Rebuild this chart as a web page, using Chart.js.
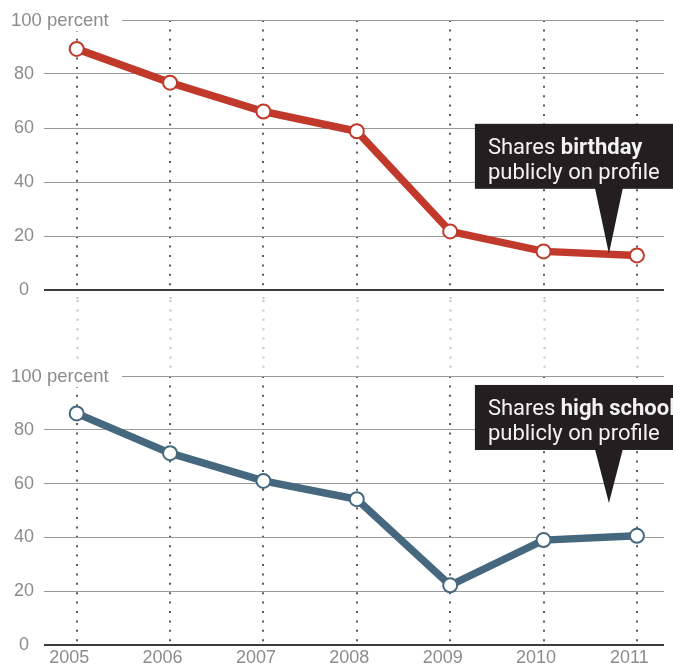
<!DOCTYPE html>
<html>
<head>
<meta charset="utf-8">
<script src="https://cdn.jsdelivr.net/npm/chart.js@4.4.0/dist/chart.umd.min.js"></script>
<style>
    html, body { margin: 0; padding: 0; background: #fff; }
    #wrap { position: relative; width: 673px; height: 672px; overflow: hidden; }
    .panel { position: absolute; left: 0; width: 673px; }
    #topPanel { top: 0; height: 300px; }
    #bottomPanel { top: 300px; height: 372px; }
</style>
</head>
<body>
<div id="wrap">
    <div class="panel" id="topPanel"><canvas id="birthdayChart"></canvas></div>
    <div class="panel" id="bottomPanel"><canvas id="schoolChart"></canvas></div>
</div>
<script>
const years = [2005, 2006, 2007, 2008, 2009, 2010, 2011];
const yTicks = [0, 20, 40, 60, 80, 100];
const birthday = [89.3, 76.8, 66.1, 58.8, 21.7, 14.3, 12.8];
const highSchool = [86.1, 71.3, 61, 54.2, 22.2, 39, 40.6];
const birthdayNote = ['Shares ', 'birthday', 'publicly on profile'];
const schoolNote = ['Shares ', 'high school', 'publicly on profile'];

const grey = '#8c8c8c';
const labelFont = '"Liberation Sans", Arial, sans-serif';
const noteFont = 'Roboto, "Open Sans", sans-serif';

// dotted year lines that run through the gap between the two panels
const gapDots = {
    id: 'gapDots',
    beforeDatasetsDraw(chart, args, opts) {
        const { ctx, chartArea, scales: { x } } = chart;
        const from = opts.below ? chartArea.bottom + 7 : 0;
        const to = opts.below ? chart.height : chartArea.top - 4;
        ctx.save();
        ctx.strokeStyle = '#c4c4c4';
        ctx.lineWidth = 2;
        ctx.setLineDash([2, 7.4]);
        years.forEach(yr => {
            const px = Math.round(x.getPixelForValue(yr)) + 0.5;
            ctx.beginPath();
            ctx.moveTo(px, from);
            ctx.lineTo(px, to);
            ctx.stroke();
        });
        ctx.restore();
    }
};

// "100 percent" label, sits over the start of the top grid line
const percentLabel = {
    id: 'percentLabel',
    beforeDatasetsDraw(chart) {
        const { ctx, scales: { y } } = chart;
        const py = y.getPixelForValue(100);
        ctx.save();
        ctx.fillStyle = '#fff';
        ctx.fillRect(0, py - 11, 122, 22);
        ctx.fillStyle = grey;
        ctx.font = '18.5px ' + labelFont;
        ctx.textBaseline = 'middle';
        ctx.fillText('100 percent', 11, py + 1);
        ctx.restore();
    }
};

// black speech box pointing at the line
const callout = {
    id: 'callout',
    afterDatasetsDraw(chart, args, opts) {
        const { ctx, scales: { x, y } } = chart;
        const tx = x.getPixelForValue(opts.tip[0]);
        const ty = y.getPixelForValue(opts.tip[1]);
        const bottom = ty - opts.drop;
        const top = bottom - 65;
        const left = tx - 134;
        ctx.save();
        ctx.fillStyle = '#231f20';
        ctx.fillRect(left, top, chart.width - left + 5, 65);
        ctx.beginPath();
        ctx.moveTo(tx - 14, bottom - 1);
        ctx.lineTo(tx + 14, bottom - 1);
        ctx.lineTo(tx, ty);
        ctx.closePath();
        ctx.fill();

        ctx.fillStyle = '#f2f2f2';
        ctx.textBaseline = 'alphabetic';
        ctx.font = '22px ' + noteFont;
        ctx.fillText(opts.text[0], left + 13, top + 30);
        const w = ctx.measureText(opts.text[0]).width;
        ctx.font = 'bold 22px ' + noteFont;
        ctx.fillText(opts.text[1], left + 13 + w, top + 30);
        ctx.font = '22px ' + noteFont;
        ctx.fillText(opts.text[2], left + 13, top + 55);
        ctx.restore();
    }
};

const makeChart = (id, values, color, note, tipValue, drop, bottomPanel) => {
    const ctx = document.getElementById(id);
    return new Chart(ctx, {
        type: 'line',
        data: {
            datasets: [{
                data: years.map((yr, i) => ({ x: yr, y: values[i] })),
                borderColor: color,
                borderWidth: 7.5,
                pointRadius: 7,
                pointBorderWidth: 2,
                pointBackgroundColor: '#fff',
                pointBorderColor: color,
                tension: 0,
            }],
        },
        options: {
            responsive: true,
            maintainAspectRatio: false,
            animation: false,
            layout: {
                padding: bottomPanel
                    ? { top: 76, right: 8, bottom: 0, left: 0 }
                    : { top: 20, right: 8, bottom: 10, left: 0 },
            },
            plugins: {
                legend: { display: false },
                tooltip: { enabled: false },
                gapDots: { below: !bottomPanel },
                callout: { tip: [2010.7, tipValue], drop: drop, text: note },
            },
            scales: {
                x: {
                    type: 'linear',
                    min: 2004.65,
                    max: 2011.29,
                    afterBuildTicks: scale => { scale.ticks = years.map(v => ({ value: v })); },
                    afterFit: scale => { scale.height = bottomPanel ? 27 : 0; },
                    grid: {
                        drawTicks: false,
                        color: '#5a5a5a',
                        lineWidth: 2,
                    },
                    border: { display: false, dash: [2, 7.4] },
                    ticks: {
                        display: bottomPanel,
                        callback: v => String(v),
                        color: grey,
                        font: { family: labelFont, size: 18 },
                        labelOffset: -7.5,
                        padding: 2,
                    },
                },
                y: {
                    min: 0,
                    max: 100,
                    afterBuildTicks: scale => { scale.ticks = yTicks.map(v => ({ value: v })); },
                    afterFit: scale => {
                        scale.width = 44;
                        scale.paddingTop = 0;
                        scale.paddingBottom = 0;
                    },
                    grid: {
                        drawTicks: false,
                        color: c => (c.tick.value === 0 ? '#3c3c3c' : '#9a9a9a'),
                        lineWidth: c => (c.tick.value === 0 ? 2 : 1),
                    },
                    border: { display: false },
                    ticks: {
                        callback: v => (v === 100 ? '' : String(v)),
                        color: grey,
                        crossAlign: 'center',
                        padding: 10,
                        font: { family: labelFont, size: 18 },
                    },
                },
            },
        },
        plugins: [gapDots, percentLabel, callout],
    });
};

makeChart('birthdayChart', birthday, '#c0392b', birthdayNote, 13.4, 65, false);
makeChart('schoolChart', highSchool, '#45687f', schoolNote, 52.8, 53, true);
</script>
</body>
</html>
